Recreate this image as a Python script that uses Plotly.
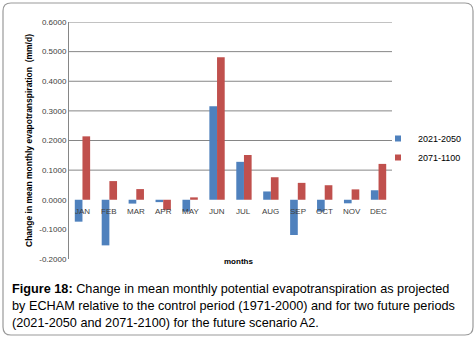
import plotly.graph_objects as go

months = ["JAN", "FEB", "MAR", "APR", "MAY", "JUN", "JUL", "AUG", "SEP", "OCT", "NOV", "DEC"]
p2021_2050 = [-0.074, -0.154, -0.013, -0.008, -0.040, 0.316, 0.128, 0.028, -0.119, -0.040, -0.012, 0.032]
p2071_2100 = [0.214, 0.063, 0.036, -0.034, 0.008, 0.481, 0.151, 0.076, 0.057, 0.049, 0.035, 0.121]
ytick_vals = [-0.2, -0.1, 0.0, 0.1, 0.2, 0.3, 0.4, 0.5, 0.6]
ytick_text = ["-0.2000", "-0.1000", "0.0000", "0.1000", "0.2000", "0.3000", "0.4000", "0.5000", "0.6000"]
series_names = ["2021-2050", "2071-1100"]
series_colors = ["#4f81bd", "#c0504d"]
caption_lines = [
    "<b>Figure 18:</b> Change in mean monthly potential evapotranspiration as projected",
    "by ECHAM relative to the control period (1971-2000) and for two future periods",
    "(2021-2050 and 2071-2100) for the future scenario A2.",
]

W, H = 476, 339
L, R, T, B = 69, 84, 22, 80
PW, PH = W - L - R, H - T - B

def px(x):
    return (x - L) / PW

def py(y):
    return 1 - (y - T) / PH

FONT = "Liberation Sans, Arial, sans-serif"

fig = go.Figure()
for vals, name, col in zip([p2021_2050, p2071_2100], series_names, series_colors):
    fig.add_trace(go.Bar(x=months, y=vals, name=name, showlegend=False,
                         marker=dict(color=col, line=dict(width=0))))
# legend entries with small square markers
for name, col in zip(series_names, series_colors):
    fig.add_trace(go.Scatter(x=[None], y=[None], mode="markers", name=name, showlegend=True,
                             marker=dict(symbol="square", size=6, color=col)))

shapes = []
# gridlines only for positive ticks
for v in ytick_vals:
    if v > 0:
        shapes.append(dict(type="line", xref="paper", yref="y", x0=0, x1=1, y0=v, y1=v,
                           line=dict(color="#868686", width=1), layer="below"))

# rounded frame
x0, x1, y0, y1, r = 3, 473, 3, 335, 8
def P(x, y):
    return f"{px(x):.5f},{py(y):.5f}"
path = (f"M {P(x0 + r, y0)} L {P(x1 - r, y0)} Q {P(x1, y0)} {P(x1, y0 + r)} "
        f"L {P(x1, y1 - r)} Q {P(x1, y1)} {P(x1 - r, y1)} L {P(x0 + r, y1)} "
        f"Q {P(x0, y1)} {P(x0, y1 - r)} L {P(x0, y0 + r)} Q {P(x0, y0)} {P(x0 + r, y0)} Z")
shapes.append(dict(type="path", xref="paper", yref="paper", path=path,
                   line=dict(color="#9a9a9a", width=1.2)))

annotations = []
for m in months:
    annotations.append(dict(x=m, y=0, xref="x", yref="y", text=m, showarrow=False,
                            yanchor="top", yshift=-5, font=dict(family=FONT, size=8, color="#404040")))
annotations.append(dict(x=px(238), y=py(268), xref="paper", yref="paper", text="<b>months</b>",
                        showarrow=False, font=dict(family=FONT, size=8, color="#000")))
annotations.append(dict(x=px(22), y=py(141), xref="paper", yref="paper",
                        text="<b>Change in mean monthly evapotranspiration  (mm/d)</b>",
                        textangle=-90, showarrow=False, font=dict(family=FONT, size=8.5, color="#000")))
for i, line in enumerate(caption_lines):
    annotations.append(dict(x=px(10), y=py(289 + 17 * i), xref="paper", yref="paper", text=line,
                            xanchor="left", yanchor="middle", showarrow=False,
                            font=dict(family=FONT, size=12.7, color="#000")))

fig.update_layout(
    width=W, height=H,
    margin=dict(l=L, r=R, t=T, b=B, autoexpand=False),
    paper_bgcolor="white", plot_bgcolor="white",
    barmode="group", bargap=0.43, bargroupgap=0,
    showlegend=True,
    legend=dict(x=px(378), y=py(124), xanchor="left", yanchor="top", font=dict(family=FONT, size=9, color="#000"),
                bgcolor="rgba(0,0,0,0)", tracegroupgap=0, itemwidth=30),
    xaxis=dict(showticklabels=False, showgrid=False, zeroline=False, showline=False, ticks=""),
    yaxis=dict(range=[-0.2, 0.6], tickvals=ytick_vals, ticktext=ytick_text, showgrid=False,
               zeroline=False, showline=True, linecolor="#868686", linewidth=1, ticks="",
               tickfont=dict(family=FONT, size=8, color="#404040")),
    shapes=shapes, annotations=annotations,
)
fig.write_html("out.html", config={"displayModeBar": False},
               post_script="document.body.style.margin='0';document.body.style.overflow='hidden';")
